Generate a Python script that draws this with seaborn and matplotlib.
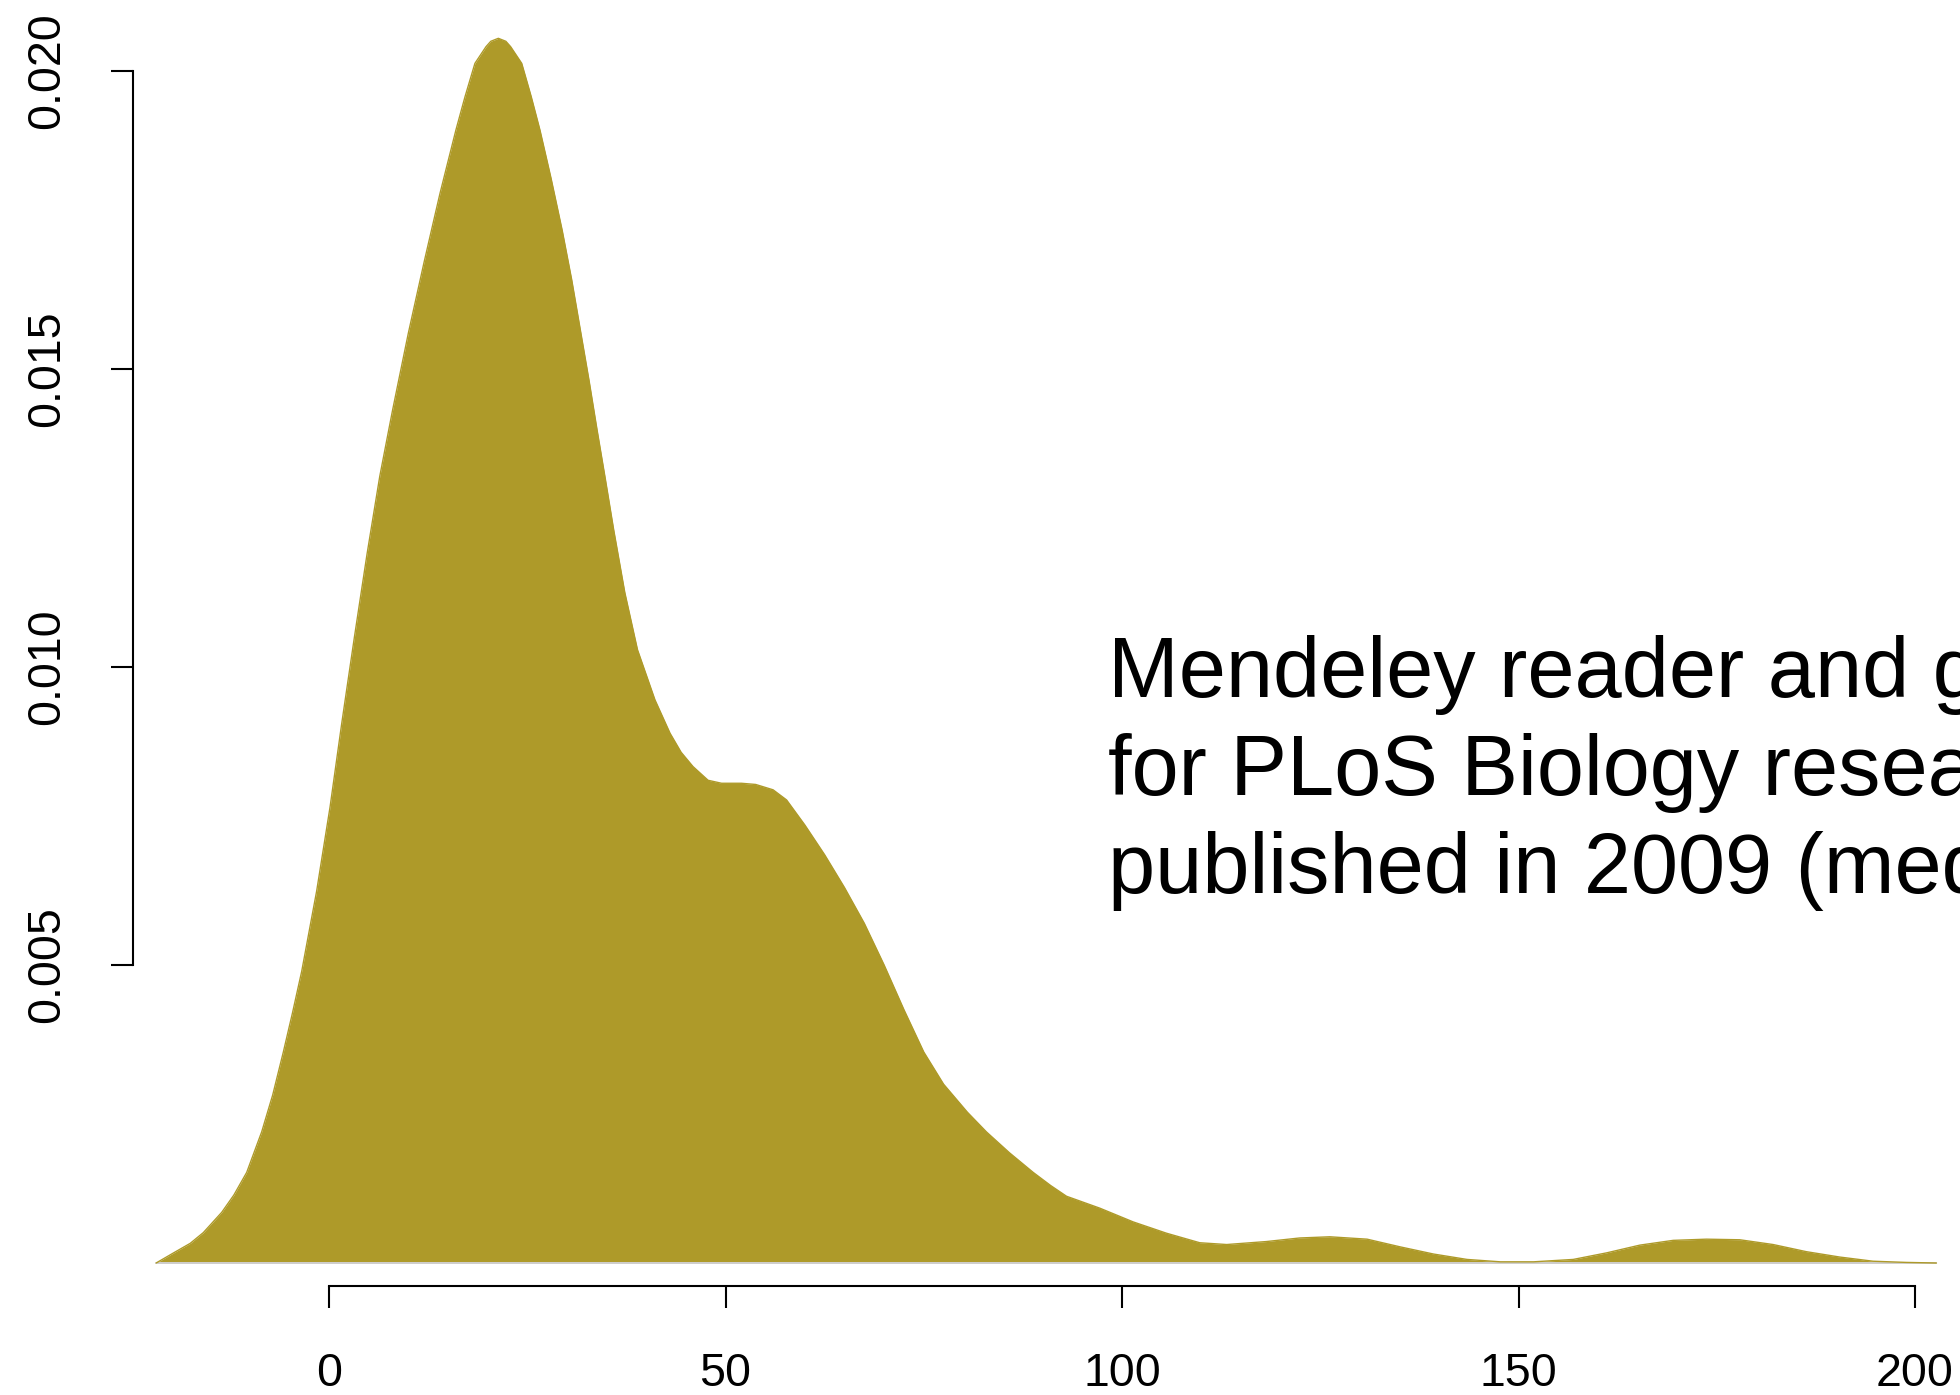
import matplotlib
matplotlib.use("Agg")
import matplotlib.pyplot as plt
import seaborn as sns
import pandas as pd

# Density curve (x = count, y = density)
x_vals = [-21.8, -19.6, -17.5, -15.85, -13.53, -12.0, -10.38, -8.49, -7.1, -5.76,
          -4.6, -3.45, -1.56, 0.13, 1.6, 3.2, 4.8, 6.4, 8.0, 10.0, 12.0, 14.0,
          16.0, 17.15, 18.4, 19.8, 20.4, 21.35, 22.3, 22.9, 24.3, 25.5, 26.6,
          28.0, 29.4, 30.6, 31.7, 32.8, 33.8, 34.85, 35.9, 37.3, 38.9, 41.1,
          43.0, 44.4, 45.9, 47.8, 49.5, 52.0, 53.8, 56.0, 57.7, 60.0, 62.5,
          65.0, 67.5, 70.0, 72.5, 75.0, 77.5, 80.5, 82.9, 85.8, 88.8, 91.0,
          93.0, 97.2, 101.4, 105.6, 109.8, 113.2, 118.2, 122.4, 126.2, 130.9,
          135.1, 139.3, 143.5, 147.7, 151.9, 156.9, 161.1, 165.3, 169.5, 173.7,
          177.9, 182.1, 186.3, 190.5, 194.7, 198.9, 202.7]
density_vals = [0.0, 0.00017, 0.00033, 0.00051, 0.00085, 0.00114, 0.00152, 0.00220,
                0.00282, 0.00354, 0.00420, 0.00489, 0.00624, 0.00765, 0.00905,
                0.01050, 0.01190, 0.01320, 0.01430, 0.01560, 0.01680, 0.01795,
                0.01901, 0.01957, 0.02013, 0.02041, 0.02050, 0.02055, 0.02050,
                0.02041, 0.02013, 0.01957, 0.01901, 0.01820, 0.01733, 0.01650,
                0.01565, 0.01480, 0.01398, 0.01315, 0.01230, 0.01125, 0.01029,
                0.00945, 0.00889, 0.00857, 0.00833, 0.00810, 0.00805, 0.00805,
                0.00803, 0.00794, 0.00777, 0.00735, 0.00685, 0.00630, 0.00570,
                0.00500, 0.00425, 0.00354, 0.00300, 0.00253, 0.00220, 0.00185,
                0.00152, 0.00130, 0.00112, 0.00092, 0.00069, 0.00050, 0.00034,
                0.00031, 0.00036, 0.00042, 0.00044, 0.00040, 0.00027, 0.00015,
                0.00006, 0.00002, 0.00002, 0.00006, 0.00017, 0.00030, 0.00038,
                0.00040, 0.00039, 0.00031, 0.00019, 0.00010, 0.00003, 0.00001, 0.0]

x_ticks = [0, 50, 100, 150, 200]
x_tick_labels = ["0", "50", "100", "150", "200"]
y_ticks = [0.005, 0.010, 0.015, 0.020]
y_tick_labels = ["0.005", "0.010", "0.015", "0.020"]

title_lines = ["Mendeley reader and group counts",
               "for PLoS Biology research articles",
               "published in 2009 (median)"]

fill_color = "#AE9A29"

sns.set_theme(style="white")
plt.rcParams["font.family"] = ["Liberation Sans", "DejaVu Sans"]

df = pd.DataFrame({"x": x_vals, "density": density_vals})

fig = plt.figure(figsize=(19.6, 13.95), dpi=100)
ax = fig.add_axes([0, 0, 1, 1])
ax.set_facecolor("white")

ax.fill_between(df["x"], df["density"], 0, color=fill_color, linewidth=0)
sns.lineplot(data=df, x="x", y="density", ax=ax, color=fill_color, linewidth=1.0,
             sort=False, estimator=None)
ax.plot([x_vals[0], x_vals[-1]], [0, 0], color="#cfcfcf", linewidth=1.4, zorder=1)

ax.set_xlim(-41.49, 205.67)
ax.set_ylim(-0.0022148, 0.021193)

for s in ["top", "right"]:
    ax.spines[s].set_visible(False)
ax.spines["left"].set_position(("data", -24.72))
ax.spines["left"].set_bounds(0.005, 0.020)
ax.spines["bottom"].set_position(("data", -0.000386))
ax.spines["bottom"].set_bounds(0, 200)
for s in ["left", "bottom"]:
    ax.spines[s].set_color("black")
    ax.spines[s].set_linewidth(1.5)

ax.set_xticks(x_ticks)
ax.set_xticklabels(x_tick_labels)
ax.set_yticks(y_ticks)
ax.set_yticklabels(y_tick_labels, rotation=90, va="center")
ax.tick_params(axis="both", which="major", direction="out", length=15.8, width=1.5,
               color="black", labelsize=33.5, labelcolor="black",
               bottom=True, left=True, top=False, right=False)
ax.tick_params(axis="x", pad=32)
ax.tick_params(axis="y", pad=30)
ax.set_xlabel("")
ax.set_ylabel("")
ax.grid(False)

W, H = 1960, 1395
baselines = [697, 795, 893]
for line, yb in zip(title_lines, baselines):
    fig.text(1108 / W, 1 - yb / H, line, fontsize=61, color="black",
             ha="left", va="baseline")

fig.savefig("out.png", dpi=100, facecolor="white")
